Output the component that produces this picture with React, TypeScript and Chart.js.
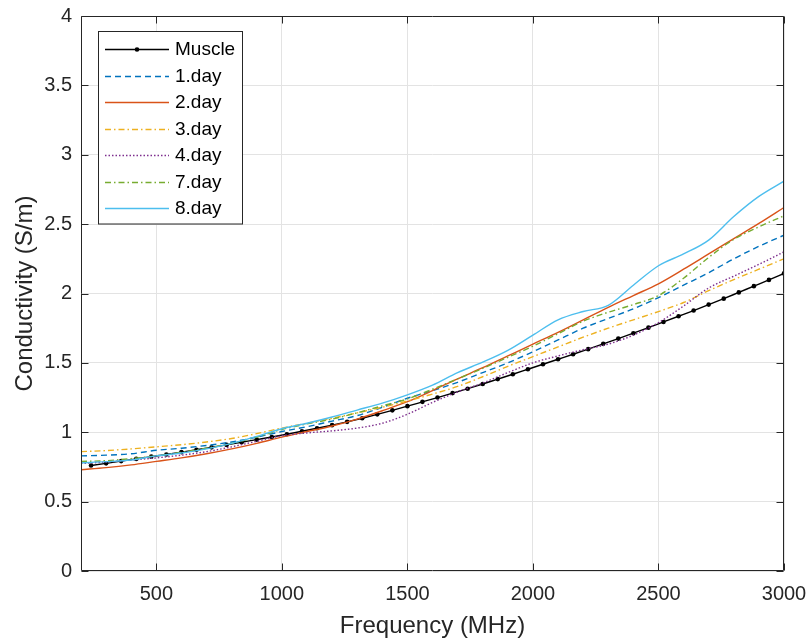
import React, { useEffect, useRef } from 'react';
import { Chart, registerables } from 'chart.js';

Chart.register(...registerables);

const FONT = '"Liberation Sans", Arial, Helvetica, sans-serif';

// Frequencies (MHz) of the smooth day curves
const FREQ = [200, 300, 400, 500, 600, 700, 800, 900, 1000, 1100, 1200, 1300, 1400, 1500, 1600, 1700, 1800, 1900, 2000, 2100, 2200, 2300, 2400, 2500, 2600, 2700, 2800, 2900, 3000];

// Muscle curve sample frequencies (one dot marker per sample)
const MUSCLE_FREQ = [240, 300, 360, 420, 480, 540, 600, 660, 720, 780, 840, 900, 960, 1020, 1080, 1140, 1200, 1260, 1320, 1380, 1440, 1500, 1560, 1620, 1680, 1740, 1800, 1860, 1920, 1980, 2040, 2100, 2160, 2220, 2280, 2340, 2400, 2460, 2520, 2580, 2640, 2700, 2760, 2820, 2880, 2940, 3000];
const MUSCLE = [0.760, 0.776, 0.792, 0.808, 0.824, 0.840, 0.857, 0.874, 0.891, 0.909, 0.928, 0.947, 0.966, 0.986, 1.007, 1.029, 1.051, 1.075, 1.101, 1.129, 1.158, 1.188, 1.219, 1.250, 1.282, 1.314, 1.348, 1.383, 1.418, 1.454, 1.490, 1.526, 1.562, 1.599, 1.637, 1.675, 1.714, 1.754, 1.795, 1.836, 1.877, 1.920, 1.963, 2.008, 2.053, 2.098, 2.145];

const DAY1 = [0.830, 0.835, 0.845, 0.870, 0.885, 0.905, 0.930, 0.965, 1.005, 1.040, 1.080, 1.120, 1.180, 1.245, 1.300, 1.360, 1.430, 1.500, 1.580, 1.665, 1.750, 1.820, 1.890, 1.970, 2.060, 2.150, 2.250, 2.340, 2.420];
const DAY2 = [0.730, 0.745, 0.765, 0.790, 0.815, 0.845, 0.880, 0.920, 0.965, 1.005, 1.045, 1.095, 1.155, 1.220, 1.300, 1.385, 1.465, 1.550, 1.635, 1.720, 1.810, 1.900, 1.985, 2.070, 2.175, 2.285, 2.395, 2.505, 2.620];
const DAY3 = [0.860, 0.868, 0.880, 0.895, 0.910, 0.930, 0.955, 0.990, 1.030, 1.065, 1.100, 1.140, 1.180, 1.225, 1.275, 1.330, 1.400, 1.475, 1.545, 1.615, 1.685, 1.750, 1.810, 1.870, 1.935, 2.020, 2.100, 2.175, 2.250];
const DAY4 = [0.775, 0.785, 0.800, 0.815, 0.835, 0.860, 0.895, 0.935, 0.975, 0.995, 1.010, 1.030, 1.065, 1.130, 1.215, 1.290, 1.355, 1.430, 1.500, 1.550, 1.595, 1.635, 1.700, 1.790, 1.910, 2.040, 2.125, 2.210, 2.300];
const DAY7 = [0.790, 0.795, 0.810, 0.830, 0.855, 0.885, 0.920, 0.965, 1.020, 1.060, 1.095, 1.140, 1.190, 1.240, 1.310, 1.385, 1.460, 1.540, 1.620, 1.710, 1.800, 1.865, 1.920, 1.985, 2.110, 2.260, 2.390, 2.480, 2.560];
const DAY8 = [0.780, 0.788, 0.800, 0.830, 0.850, 0.880, 0.920, 0.970, 1.025, 1.065, 1.110, 1.160, 1.210, 1.270, 1.340, 1.430, 1.505, 1.590, 1.700, 1.810, 1.870, 1.915, 2.060, 2.200, 2.285, 2.385, 2.555, 2.700, 2.810];

const LABELS = ['Muscle', '1.day', '2.day', '3.day', '4.day', '7.day', '8.day'];
const X_TICKS = [500, 1000, 1500, 2000, 2500, 3000];
const Y_TICKS = [0, 0.5, 1, 1.5, 2, 2.5, 3, 3.5, 4];

type Style = { color: string; dash: number[]; marker: boolean };
const STYLES: Style[] = [
  { color: '#000000', dash: [], marker: true },
  { color: '#0072BD', dash: [6, 4], marker: false },
  { color: '#D95319', dash: [], marker: false },
  { color: '#EDB120', dash: [6, 3, 1.5, 3], marker: false },
  { color: '#7E2F8E', dash: [1.5, 2], marker: false },
  { color: '#77AC30', dash: [6, 3, 1.5, 3], marker: false },
  { color: '#4DBEEE', dash: [], marker: false },
];

const AXIS_COLOR = '#262626';
const LINE_W = 1.4;

const boxPlugin = {
  id: 'matlabBox',
  afterDatasetsDraw(chart: any) {
    const { ctx, chartArea: a, scales } = chart;
    const L = Math.round(a.left) + 0.5;
    const R = Math.round(a.right) - 0.5;
    const T = Math.round(a.top) + 0.5;
    const B = Math.round(a.bottom) - 0.5;
    ctx.save();
    ctx.strokeStyle = AXIS_COLOR;
    ctx.lineWidth = 1;
    ctx.setLineDash([]);
    ctx.beginPath();
    ctx.rect(L, T, R - L, B - T);
    const tl = 7;
    X_TICKS.forEach((v) => {
      const x = Math.round(scales.x.getPixelForValue(v)) + 0.5;
      ctx.moveTo(x, B);
      ctx.lineTo(x, B - tl);
      ctx.moveTo(x, T);
      ctx.lineTo(x, T + tl);
    });
    Y_TICKS.forEach((v) => {
      const y = Math.round(scales.y.getPixelForValue(v)) + 0.5;
      ctx.moveTo(L, y);
      ctx.lineTo(L + tl, y);
      ctx.moveTo(R, y);
      ctx.lineTo(R - tl, y);
    });
    ctx.stroke();
    ctx.restore();
  },
};

const legendPlugin = {
  id: 'matlabLegend',
  afterDraw(chart: any) {
    const { ctx } = chart;
    const bx = 98.5, by = 31.5, bw = 144, bh = 192.5;
    ctx.save();
    ctx.fillStyle = '#ffffff';
    ctx.fillRect(bx, by, bw, bh);
    ctx.strokeStyle = AXIS_COLOR;
    ctx.lineWidth = 1;
    ctx.setLineDash([]);
    ctx.strokeRect(bx, by, bw, bh);
    const x0 = 105, x1 = 169, tx = 175;
    const y0 = 49, dy = 26.5;
    LABELS.forEach((lab, i) => {
      const st = STYLES[i];
      const y = Math.round(y0 + i * dy) + 0.5;
      ctx.strokeStyle = st.color;
      ctx.lineWidth = LINE_W;
      ctx.setLineDash(st.dash);
      ctx.beginPath();
      ctx.moveTo(x0, y);
      ctx.lineTo(x1, y);
      ctx.stroke();
      ctx.setLineDash([]);
      if (st.marker) {
        ctx.fillStyle = st.color;
        ctx.beginPath();
        ctx.arc((x0 + x1) / 2, y, 2.3, 0, Math.PI * 2);
        ctx.fill();
      }
      ctx.fillStyle = '#000000';
      ctx.font = `19px ${FONT}`;
      ctx.textAlign = 'left';
      ctx.textBaseline = 'middle';
      ctx.fillText(lab, tx, y);
    });
    ctx.restore();
  },
};

function toPoints(xs: number[], ys: number[]) {
  return xs.map((x, i) => ({ x, y: ys[i] }));
}

export default function App() {
  const ref = useRef<HTMLCanvasElement | null>(null);

  useEffect(() => {
    if (!ref.current) return;
    Chart.defaults.font.family = FONT;
    const series = [
      toPoints(MUSCLE_FREQ, MUSCLE),
      toPoints(FREQ, DAY1),
      toPoints(FREQ, DAY2),
      toPoints(FREQ, DAY3),
      toPoints(FREQ, DAY4),
      toPoints(FREQ, DAY7),
      toPoints(FREQ, DAY8),
    ];
    const datasets = series.map((data, i) => {
      const st = STYLES[i];
      return {
        label: LABELS[i],
        data,
        borderColor: st.color,
        backgroundColor: st.color,
        borderWidth: LINE_W,
        borderDash: st.dash,
        pointRadius: st.marker ? 2.3 : 0,
        pointBorderWidth: 0,
        pointBackgroundColor: st.color,
        cubicInterpolationMode: 'monotone' as const,
        fill: false,
        showLine: true,
        order: LABELS.length - i,
      };
    });
    const chart = new Chart(ref.current, {
      type: 'line',
      data: { datasets },
      options: {
        animation: false,
        responsive: false,
        maintainAspectRatio: false,
        layout: { padding: { top: 16, right: 27, bottom: 0, left: 0 } },
        plugins: { legend: { display: false }, tooltip: { enabled: false } },
        scales: {
          x: {
            type: 'linear',
            min: 200,
            max: 3000,
            afterBuildTicks: (s: any) => {
              s.ticks = X_TICKS.map((v) => ({ value: v }));
            },
            afterFit: (s: any) => {
              s.height = 71;
              s.paddingLeft = 0;
              s.paddingRight = 0;
            },
            grid: { color: '#e3e3e3', lineWidth: 1, drawTicks: false },
            border: { display: false },
            ticks: {
              padding: 11,
              color: AXIS_COLOR,
              font: { size: 20, family: FONT },
              maxRotation: 0,
              autoSkip: false,
              callback: (v: any) => String(v),
            },
            title: {
              display: true,
              text: 'Frequency (MHz)',
              color: AXIS_COLOR,
              font: { size: 24, family: FONT },
              padding: { top: 0, bottom: 1 },
            },
          },
          y: {
            type: 'linear',
            min: 0,
            max: 4,
            afterBuildTicks: (s: any) => {
              s.ticks = Y_TICKS.map((v) => ({ value: v }));
            },
            afterFit: (s: any) => {
              s.width = 81;
              s.paddingTop = 0;
              s.paddingBottom = 0;
            },
            grid: { color: '#e3e3e3', lineWidth: 1, drawTicks: false },
            border: { display: false },
            ticks: {
              padding: 9,
              color: AXIS_COLOR,
              font: { size: 20, family: FONT },
              autoSkip: false,
              callback: (v: any) => String(v),
            },
            title: {
              display: true,
              text: 'Conductivity (S/m)',
              color: AXIS_COLOR,
              font: { size: 24, family: FONT },
              padding: { top: 10.5, bottom: 0 },
            },
          },
        },
      },
      plugins: [boxPlugin, legendPlugin],
    });
    return () => chart.destroy();
  }, []);

  return (
    <div style={{ position: 'absolute', left: 0, top: 0, width: 811, height: 642, background: '#ffffff' }}>
      <canvas ref={ref} width={811} height={642} />
    </div>
  );
}
